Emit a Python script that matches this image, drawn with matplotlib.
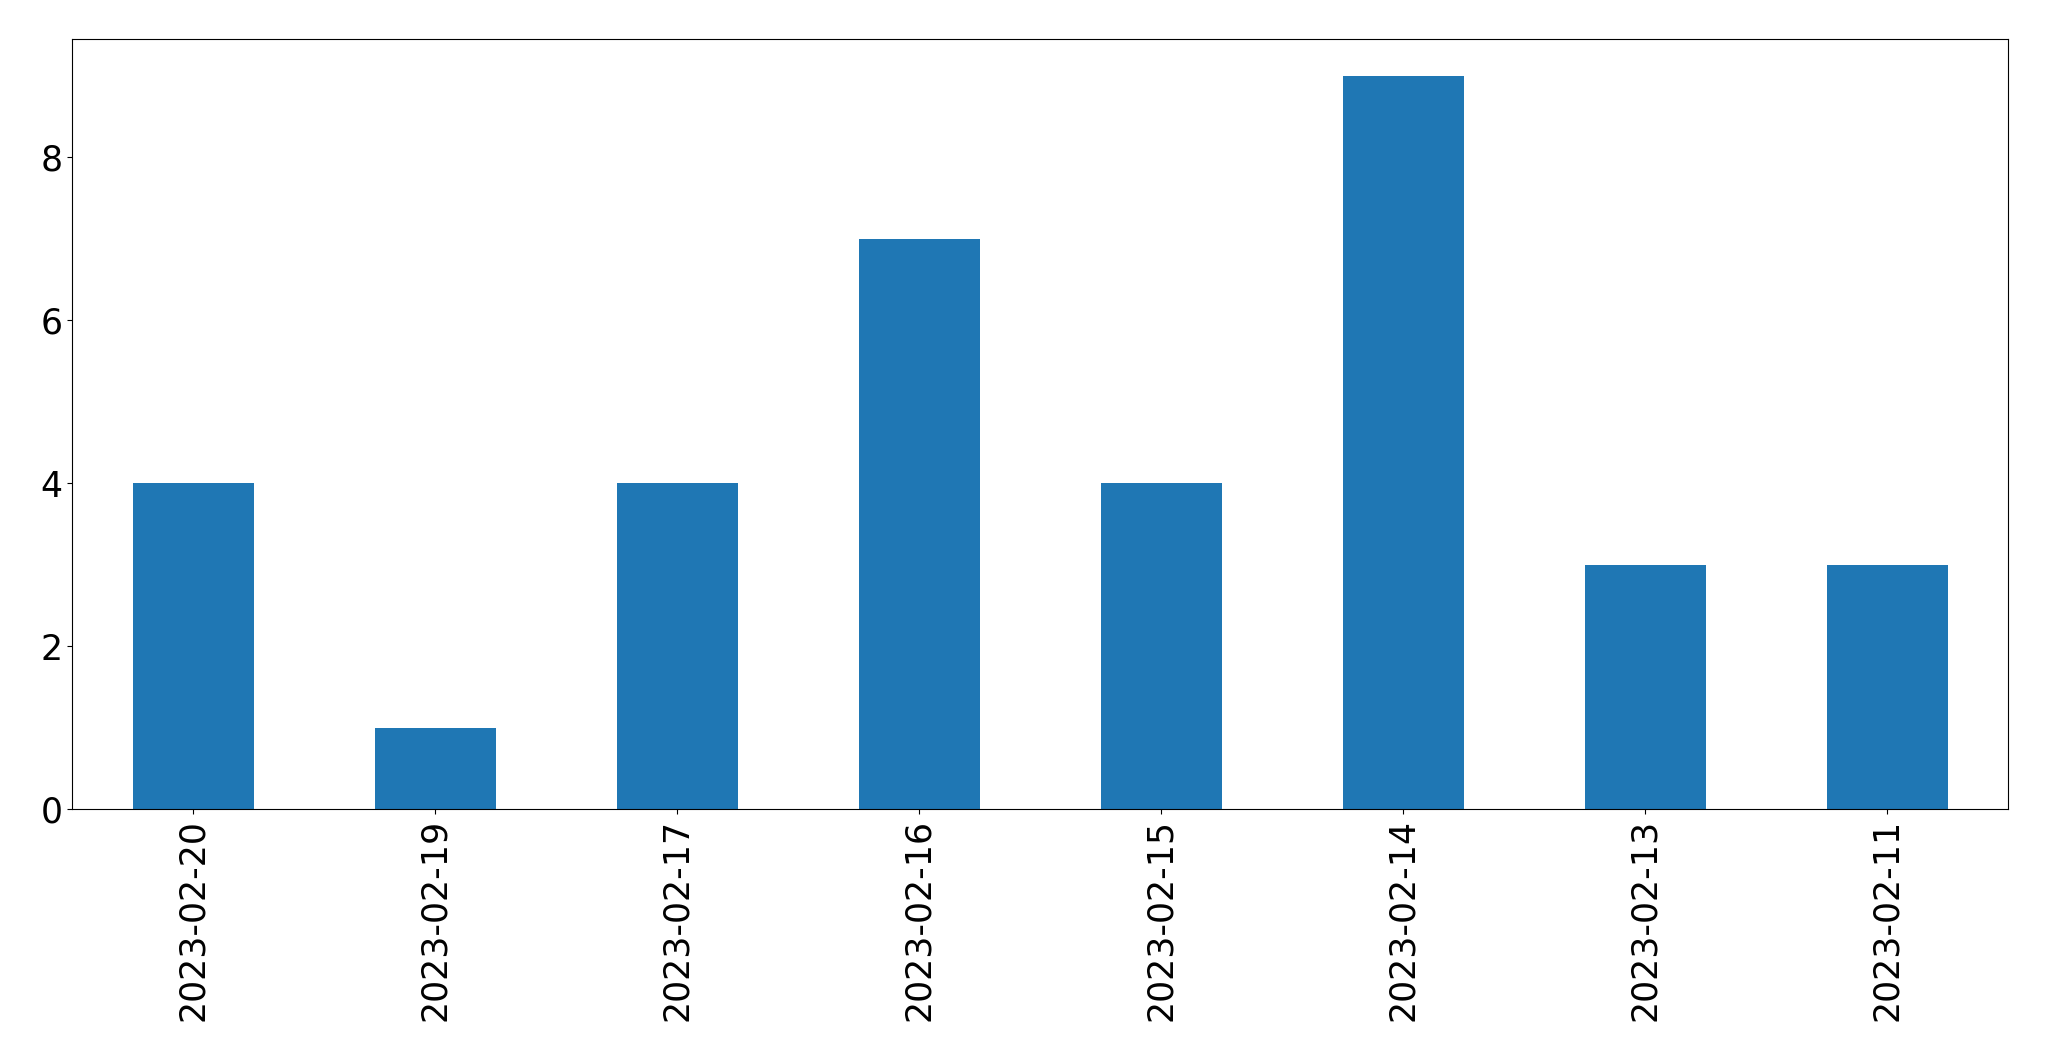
import matplotlib
matplotlib.use("Agg")
import matplotlib.pyplot as plt

dates = ["2023-02-20", "2023-02-19", "2023-02-17", "2023-02-16",
         "2023-02-15", "2023-02-14", "2023-02-13", "2023-02-11"]
counts = [4, 1, 4, 7, 4, 9, 3, 3]

fig = plt.figure(figsize=(20.49, 10.61), dpi=100)
ax = fig.add_axes([72/2049, 1 - 809/1061, (2008-72)/2049, (809-39)/1061])
x = list(range(len(dates)))
ax.bar(x, counts, width=0.5, color="#1f77b4")
ax.set_xlim(-0.5, len(dates) - 0.5)
ax.set_xticks(x)
ax.set_xticklabels(dates, rotation=90)
ax.tick_params(labelsize=25)
fig.savefig("out.png", dpi=100)
